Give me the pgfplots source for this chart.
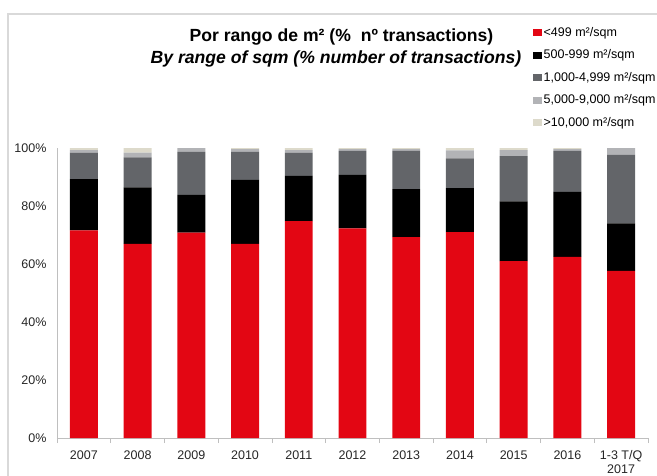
\documentclass[border=0pt]{standalone}
\usepackage{fontspec}
\setmainfont{Liberation Sans}
\usepackage{pgfplots}
\pgfplotsset{compat=1.18}
\usepackage{pgfplotstable}
\definecolor{cRed}{HTML}{E30613}
\definecolor{cBlack}{HTML}{000000}
\definecolor{cDark}{HTML}{636569}
\definecolor{cMid}{HTML}{B2B3B6}
\definecolor{cLight}{HTML}{DDDACB}
\definecolor{cFrame}{HTML}{D9D9D9}
\definecolor{cAxis}{HTML}{BFBFBF}
\pgfplotstableread{
x  a    b    c    d    e
0  71.6 17.7 9.1  0.9  0.7
1  66.9 19.5 10.4 1.6  1.6
2  70.8 13.0 14.9 1.3  0.0
3  66.9 22.1 9.7  0.9  0.4
4  74.8 15.6 8.0  0.9  0.7
5  72.3 18.4 8.3  0.6  0.4
6  69.3 16.5 13.3 0.5  0.4
7  71.0 15.2 10.2 2.8  0.8
8  61.0 20.6 15.6 2.1  0.7
9  62.5 22.4 14.1 0.6  0.4
10 57.6 16.4 23.6 2.4  0.0
}\data
\begin{document}
\begin{tikzpicture}
\useasboundingbox (-57pt,-37pt) rectangle (600pt,438pt);
\draw[cFrame, line width=1.5pt] (-49pt,-40pt) -- (-49pt,424pt) -- (603pt,424pt);
\begin{axis}[
  scale only axis,
  width=591pt, height=290pt,
  ybar stacked,
  bar width=0.52,
  xmin=-0.5, xmax=10.5,
  ymin=0, ymax=100,
  axis lines*=left,
  axis line style={cAxis, line width=0.8pt},
  xtick={0,...,10},
  xticklabels={2007,2008,2009,2010,2011,2012,2013,2014,2015,2016,{1-3 T/Q\\2017}},
  minor xtick={-0.5,0.5,...,10.5},
  major tick length=0pt,
  minor tick length=5pt,
  tick align=outside,
  minor tick style={cAxis, line width=0.8pt},
  ytick={0,20,40,60,80,100},
  yticklabel={\pgfmathprintnumber{\tick}\%},
  /pgf/number format/assume math mode=true,
  tick label style={font=\fontsize{12.5}{13.5}\selectfont, text=black!85},
  xticklabel style={align=center, yshift=-9pt},
  yticklabel style={xshift=-7pt},
  legend style={at={(axis description cs:0.8054,1.4241)}, anchor=north west,
    draw=none, fill=none, font=\fontsize{12.5}{13.5}\selectfont,
    row sep=8pt, inner sep=0pt,
    /tikz/every even column/.append style={column sep=1pt}},
  legend cell align=left,
  legend image code/.code={\fill[#1] (0pt,-3.5pt) rectangle (8.5pt,3.5pt);},
]
\addplot[fill=cRed, draw=none] table[x=x,y=a]{\data};
\addplot[fill=cBlack, draw=none] table[x=x,y=b]{\data};
\addplot[fill=cDark, draw=none] table[x=x,y=c]{\data};
\addplot[fill=cMid, draw=none] table[x=x,y=d]{\data};
\addplot[fill=cLight, draw=none] table[x=x,y=e]{\data};
\legend{<499 m²/sqm, 500-999 m²/sqm, {1,000-4,999 m²/sqm}, {5,000-9,000 m²/sqm}, {>10,000 m²/sqm}}
\end{axis}
\node[font=\fontsize{17.6}{20}\selectfont\bfseries] at (284.5pt,401pt) {Por rango de m² (\%\ \ nº transactions)};
\node[font=\fontsize{17.6}{20}\selectfont\bfseries\itshape] at (279pt,379pt) {By range of sqm (\% number of transactions)};
\end{tikzpicture}
\end{document}
